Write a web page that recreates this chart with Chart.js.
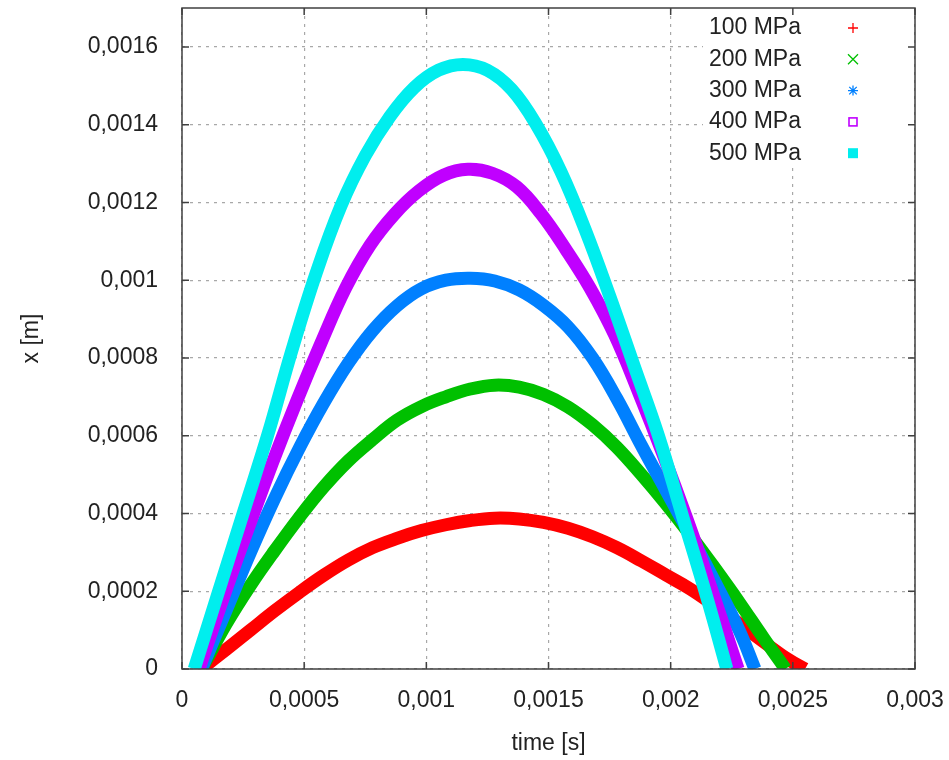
<!DOCTYPE html>
<html lang="en">
<head>
<meta charset="UTF-8">
<title>x [m] over time [s]</title>
<script src="https://cdn.jsdelivr.net/npm/chart.js@4"></script>
<style>
    body {
        margin: 0;
        background: #fff;
    }
    #wrap {
        width: 949px;
        height: 760px;
        position: relative;
    }
</style>
</head>
<body>
<div id="wrap"><canvas id="chart"></canvas></div>
<script>
// series
const seriesNames = ['100 MPa', '200 MPa', '300 MPa', '400 MPa', '500 MPa'];
const seriesColors = ['#ff0000', '#00c000', '#0080ff', '#c000ff', '#00eeee'];
const markerStyles = ['cross', 'crossRot', 'star', 'rect', 'rectFilled'];

// time [s] and x [m]
const t100 = [0.00008, 0.00018, 0.00028, 0.00038, 0.00048, 0.00058, 0.00068, 0.00078, 0.00088, 0.00098, 0.00108, 0.00118, 0.00128, 0.00138, 0.00148, 0.00158, 0.00168, 0.00178, 0.00188, 0.00198, 0.00208, 0.00218, 0.00228, 0.00238, 0.00248, 0.00255];
const x100 = [0, 0.00005, 0.0001, 0.00015, 0.000197, 0.000241, 0.00028, 0.000312, 0.000336, 0.000356, 0.000371, 0.000382, 0.000388, 0.000386, 0.000377, 0.000362, 0.00034, 0.000312, 0.000278, 0.000242, 0.000206, 0.000163, 0.000117, 0.00007, 0.000025, 0];

const t200 = [0.00008, 0.00018, 0.00028, 0.00038, 0.00048, 0.00058, 0.00068, 0.00078, 0.00088, 0.00098, 0.00108, 0.00118, 0.00128, 0.00138, 0.00148, 0.00158, 0.00168, 0.00178, 0.00188, 0.00198, 0.00208, 0.00218, 0.00228, 0.00238, 0.00247];
const x200 = [0, 0.000115, 0.000215, 0.000305, 0.00039, 0.000468, 0.000535, 0.00059, 0.00064, 0.000675, 0.0007, 0.00072, 0.00073, 0.000725, 0.000706, 0.000674, 0.000628, 0.00057, 0.0005, 0.000425, 0.000345, 0.00026, 0.000172, 0.00008, 0];

const t300 = [0.00008, 0.00018, 0.00028, 0.00038, 0.00048, 0.00058, 0.00068, 0.00078, 0.00088, 0.00098, 0.00108, 0.00118, 0.00128, 0.00138, 0.00148, 0.00158, 0.00168, 0.00178, 0.00188, 0.00198, 0.00208, 0.00218, 0.00228, 0.002345];
const x300 = [0, 0.00015, 0.0003, 0.00044, 0.000568, 0.000684, 0.000786, 0.00087, 0.000934, 0.000978, 0.001, 0.001005, 0.000998, 0.000975, 0.000935, 0.00088, 0.0008, 0.000695, 0.000575, 0.00046, 0.000345, 0.000225, 0.0001, 0];

const t400 = [0.00007, 0.00017, 0.00027, 0.00037, 0.00047, 0.00057, 0.00067, 0.00077, 0.00087, 0.00097, 0.00107, 0.00117, 0.00127, 0.00137, 0.00147, 0.00157, 0.00167, 0.00177, 0.00187, 0.00197, 0.00207, 0.00217, 0.002276];
const x400 = [0, 0.000185, 0.00036, 0.00053, 0.00069, 0.00084, 0.00098, 0.00109, 0.00117, 0.00123, 0.00127, 0.001285, 0.001275, 0.00124, 0.00117, 0.00108, 0.00098, 0.00086, 0.00071, 0.00055, 0.00038, 0.0002, 0];

const t500 = [0.00005, 0.00015, 0.00025, 0.00035, 0.00045, 0.00055, 0.00065, 0.00075, 0.00085, 0.00095, 0.00105, 0.00115, 0.00125, 0.00135, 0.00145, 0.00155, 0.00165, 0.00175, 0.00185, 0.00195, 0.00205, 0.00215, 0.00223];
const x500 = [0, 0.0002, 0.0004, 0.0006, 0.00082, 0.00102, 0.00119, 0.00132, 0.00142, 0.001495, 0.00154, 0.001555, 0.00154, 0.00149, 0.0014, 0.00128, 0.00113, 0.00096, 0.00078, 0.0006, 0.00039, 0.00018, 0];

const tSeries = [t100, t200, t300, t400, t500];
const xSeries = [x100, x200, x300, x400, x500];

// axes
const xTicks = [0, 0.0005, 0.001, 0.0015, 0.002, 0.0025, 0.003];
const xTickLabels = ['0', '0,0005', '0,001', '0,0015', '0,002', '0,0025', '0,003'];
const yTicks = [0, 0.0002, 0.0004, 0.0006, 0.0008, 0.001, 0.0012, 0.0014, 0.0016];
const yTickLabels = ['0', '0,0002', '0,0004', '0,0006', '0,0008', '0,001', '0,0012', '0,0014', '0,0016'];

const FONT = '"Liberation Sans", Arial, sans-serif';
const TEXT = '#222';

function drawMarker(ctx, style, x, y, color) {
    const r = 5;
    ctx.save();
    ctx.strokeStyle = color;
    ctx.fillStyle = color;
    ctx.lineWidth = 1.3;
    ctx.beginPath();
    if (style === 'cross' || style === 'star') {
        ctx.moveTo(x - r, y); ctx.lineTo(x + r, y);
        ctx.moveTo(x, y - r); ctx.lineTo(x, y + r);
    }
    if (style === 'crossRot' || style === 'star') {
        const d = style === 'star' ? r * 0.75 : r;
        ctx.moveTo(x - d, y - d); ctx.lineTo(x + d, y + d);
        ctx.moveTo(x - d, y + d); ctx.lineTo(x + d, y - d);
    }
    ctx.stroke();
    if (style === 'rect') {
        ctx.lineWidth = 1.6;
        ctx.strokeRect(x - 4, y - 4, 8, 8);
    }
    if (style === 'rectFilled') {
        ctx.fillRect(x - 5, y - 5, 10, 10);
    }
    ctx.restore();
}

// gnuplot style frame, inward ticks and key
const gnuplotFrame = {
    id: 'gnuplotFrame',
    beforeDatasetsDraw(chart) {
        const { ctx, chartArea: a } = chart;
        ctx.save();
        ctx.fillStyle = '#fff';
        ctx.fillRect(703, a.top + 1, a.right - 704, 159);
        ctx.restore();
    },
    afterDraw(chart) {
        const { ctx, chartArea: a, scales } = chart;
        ctx.save();
        ctx.strokeStyle = '#404040';
        ctx.lineWidth = 1.5;
        ctx.strokeRect(a.left, a.top, a.right - a.left, a.bottom - a.top);
        const tl = 7;
        ctx.beginPath();
        xTicks.forEach(v => {
            const px = scales.x.getPixelForValue(v);
            ctx.moveTo(px, a.bottom); ctx.lineTo(px, a.bottom - tl);
            ctx.moveTo(px, a.top); ctx.lineTo(px, a.top + tl);
        });
        yTicks.forEach(v => {
            const py = scales.y.getPixelForValue(v);
            ctx.moveTo(a.left, py); ctx.lineTo(a.left + tl, py);
            ctx.moveTo(a.right, py); ctx.lineTo(a.right - tl, py);
        });
        ctx.stroke();

        // key
        ctx.font = '23px ' + FONT;
        ctx.fillStyle = TEXT;
        ctx.textAlign = 'right';
        ctx.textBaseline = 'middle';
        chart.data.datasets.forEach((ds, i) => {
            const y = 28 + i * 31.3;
            ctx.fillText(ds.label, 801, y);
            drawMarker(ctx, markerStyles[i], 853, y, ds.borderColor);
        });
        ctx.restore();
    }
};

const datasets = seriesNames.map((name, i) => ({
    label: name,
    data: tSeries[i].map((t, j) => ({ x: t, y: xSeries[i][j] })),
    borderColor: seriesColors[i],
    backgroundColor: seriesColors[i],
    borderWidth: 13,
    borderCapStyle: 'butt',
    pointRadius: 0,
    pointStyle: markerStyles[i] === 'rectFilled' ? 'rect' : markerStyles[i],
    tension: 0.4,
    fill: false,
    order: seriesNames.length - 1 - i
}));

new Chart(document.getElementById('chart'), {
    type: 'line',
    data: { datasets: datasets },
    options: {
        responsive: true,
        maintainAspectRatio: false,
        animation: false,
        layout: { padding: { top: 8, right: 34, left: 0, bottom: 0 } },
        plugins: {
            legend: { display: false },
            tooltip: { enabled: false }
        },
        scales: {
            x: {
                type: 'linear',
                min: 0,
                max: 0.003,
                afterBuildTicks: s => { s.ticks = xTicks.map(v => ({ value: v })); },
                afterFit: s => {
                    s.height = 91;
                    s.paddingLeft = 0;
                    s.paddingRight = 0;
                },
                ticks: {
                    padding: 18,
                    color: TEXT,
                    font: { family: FONT, size: 23 },
                    maxRotation: 0,
                    callback: (v, i) => xTickLabels[i]
                },
                grid: { color: '#a8a8a8', lineWidth: 1.2, drawTicks: false },
                border: { display: false, dash: [3, 5] },
                title: {
                    display: true,
                    text: 'time [s]',
                    color: TEXT,
                    font: { family: FONT, size: 23 },
                    padding: { top: 0, bottom: 3 }
                }
            },
            y: {
                type: 'linear',
                min: 0,
                max: 0.0017,
                afterBuildTicks: s => { s.ticks = yTicks.map(v => ({ value: v })); },
                afterFit: s => {
                    s.width = 182;
                    s.paddingTop = 0;
                    s.paddingBottom = 0;
                },
                ticks: {
                    padding: 24,
                    color: TEXT,
                    font: { family: FONT, size: 23 },
                    callback: (v, i) => yTickLabels[i]
                },
                grid: { color: '#a8a8a8', lineWidth: 1.2, drawTicks: false },
                border: { display: false, dash: [3, 5] },
                title: {
                    display: true,
                    text: 'x [m]',
                    color: TEXT,
                    font: { family: FONT, size: 23 },
                    padding: { top: 18, bottom: 0 }
                }
            }
        }
    },
    plugins: [gnuplotFrame]
});
</script>
</body>
</html>
